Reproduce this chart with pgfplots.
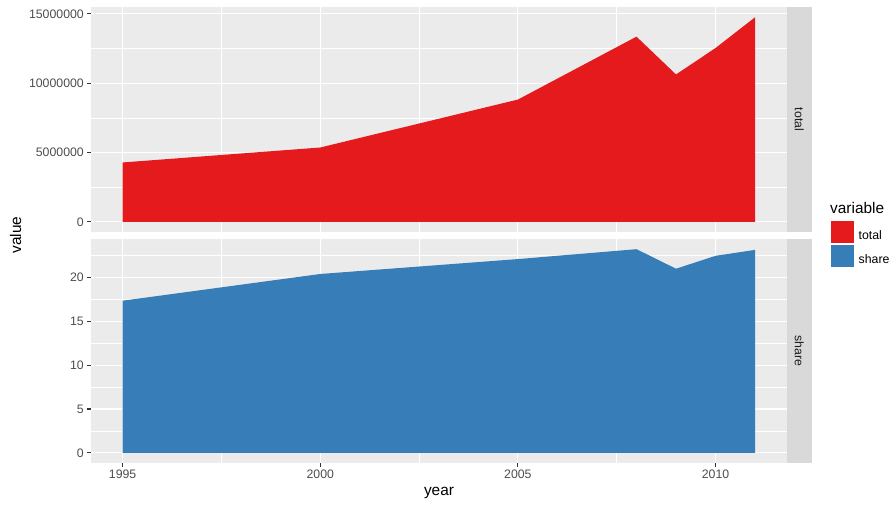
\documentclass[border=0pt]{standalone}
\usepackage{pgfplots}
\pgfplotsset{compat=1.18}
\usepackage{fontspec}
\setmainfont{Liberation Sans}

\definecolor{setred}{HTML}{E41A1C}
\definecolor{setblue}{HTML}{377EB8}
\definecolor{panelbg}{HTML}{EBEBEB}
\definecolor{stripbg}{HTML}{D9D9D9}
\definecolor{gray30}{HTML}{4D4D4D}
\definecolor{gray20}{HTML}{333333}
\definecolor{gray10}{HTML}{1A1A1A}

\pgfplotsset{
  ggpanel/.style={
    scale only axis,
    width=695.7pt,
    anchor=south west,
    xmin=1994.2, xmax=2011.8,
    axis background/.style={fill=panelbg},
    axis line style={draw=none},
    grid=both,
    major grid style={white, line width=1.1pt},
    minor grid style={white, line width=0.55pt},
    xtick={1995,2000,2005,2010},
    minor xtick={1997.5,2002.5,2007.5},
    tick align=outside,
    major tick length=3.7pt,
    minor tick length=0pt,
    tick style={gray20, line width=1.1pt},
    xtick pos=bottom, ytick pos=left,
    ticklabel style={font=\fontsize{12.3}{14}\selectfont, text=gray30},
    /pgf/number format/assume math mode=true,
    /pgf/number format/1000 sep={},
    scaled ticks=false,
  },
}

\begin{document}
\begin{tikzpicture}[x=1pt, y=1pt]
\path[use as bounding box] (0,0) rectangle (889,504);

% top facet: total
\begin{axis}[
  ggpanel,
  at={(91pt,272pt)},
  height=225pt,
  ymin=-738000, ymax=15500000,
  ytick={0,5000000,10000000,15000000},
  yticklabels={0,5000000,10000000,15000000},
  minor ytick={2500000,7500000,12500000},
  xticklabels={},
  xtick style={draw=none},
  legend image code/.code={\fill[#1] (0pt,-7.5pt) rectangle (22.5pt,14.5pt);},
  legend style={
    at={(1.0637,0.0502)}, anchor=north west,
    draw=none, fill=none, inner sep=0pt,
    row sep=2.3pt, column sep=5pt,
    nodes={inner sep=0pt, text=black, font=\fontsize{12.3}{14}\selectfont},
  },
  legend cell align=left,
]
\addplot[fill=setred, draw=none] coordinates {
  (1995,0) (1995,4280000) (2000,5360000) (2005,8820000) (2008,13360000)
  (2009,10630000) (2010,12540000) (2011,14760000) (2011,0)
};
\addlegendentry{total}
\addlegendimage{fill=setblue, draw=none}
\addlegendentry{share}
\end{axis}

% bottom facet: share
\begin{axis}[
  ggpanel,
  at={(91pt,41pt)},
  height=224pt,
  ymin=-1.16, ymax=24.39,
  ytick={0,5,10,15,20},
  minor ytick={2.5,7.5,12.5,17.5,22.5},
]
\addplot[fill=setblue, draw=none] coordinates {
  (1995,0) (1995,17.35) (2000,20.4) (2005,22.1) (2008,23.23)
  (2009,21.0) (2010,22.47) (2011,23.15) (2011,0)
};
\end{axis}

% facet strips
\fill[stripbg] (786.7,272) rectangle (811.7,497);
\node[rotate=-90, text=gray10, font=\fontsize{12.3}{14}\selectfont] at (799.2,384.5) {total};
\fill[stripbg] (786.7,41) rectangle (811.7,265);
\node[rotate=-90, text=gray10, font=\fontsize{12.3}{14}\selectfont] at (799.2,153) {share};

% axis titles and legend title
\node[rotate=90, anchor=base, font=\fontsize{15.4}{18}\selectfont] at (21,269) {value};
\node[anchor=base, font=\fontsize{15.4}{18}\selectfont] at (439,8.5) {year};
\node[anchor=base west, font=\fontsize{15.4}{18}\selectfont, inner sep=0pt] at (830,290) {variable};
\end{tikzpicture}
\end{document}
